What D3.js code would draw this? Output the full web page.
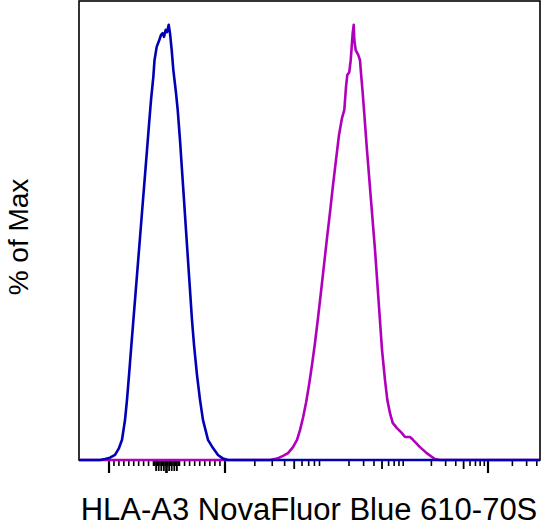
<!DOCTYPE html>
<html><head><meta charset="utf-8">
<script src="https://cdn.jsdelivr.net/npm/d3@7"></script>
<style>html,body{margin:0;padding:0;background:#fff;}svg{display:block;font-family:"Liberation Sans",Arial,sans-serif;}</style>
</head><body>
<svg id="c" width="547" height="527"></svg>
<script>
// Histogram data: x in display units (0-1000 across the axis), y in % of Max
const blueX = [0,45.6,56.4,67.2,78.1,86.8,93.3,99.8,104.1,108.5,112.8,117.1,121.5,125.8,130.2,134.5,138.8,143.2,147.5,151.8,156.2,161.2,163.8,168.5,174.2,177.9,181.6,184.4,188.1,190.9,194.6,197.4,201.1,204.6,210.4,214.1,219.1,223.4,227.8,232.1,236.4,240.8,245.1,249.5,256.0,262.5,269.0,279.8,290.7,301.5,312.4,323.2,1000];
const blueY = [0,0,0.2,0.5,1.1,2.6,4.4,8.7,13.1,18.5,24.0,29.4,34.9,40.3,45.8,51.2,56.6,62.1,67.5,73.0,78.4,83.4,87.1,90.0,91.5,92.6,93.0,92.2,93.7,93.2,94.8,93.0,89.3,85.0,80.0,76.3,69.7,63.2,56.6,50.1,43.6,37.0,30.5,25.1,18.5,13.1,8.7,4.4,2.6,1.1,0.3,0,0];
const magX = [0,414.3,429.5,442.5,453.4,464.2,472.9,479.4,485.9,492.4,498.9,505.4,511.9,518.4,524.9,531.5,538.0,544.5,551.0,557.5,564.0,570.5,575.5,579.2,582.0,586.3,589.4,591.5,593.7,595.9,597.2,600.2,605.9,609.5,611.7,615.4,618.2,624.7,633.4,642.1,649.7,657.3,663.8,668.8,674.6,680.5,689.2,700.0,707.2,718.0,724.5,739.7,754.2,765.1,772.2,783.1,1000];
const magY = [0,0,0.3,0.9,1.5,2.8,4.4,6.5,9.2,12.4,16.3,20.7,25.5,30.9,36.6,42.5,48.4,54.0,59.9,65.4,70.8,74.5,76.3,81.3,83.9,84.5,87.1,90.0,93.0,94.8,91.5,89.3,88.2,87.1,84.3,80.0,76.3,67.5,56.6,45.8,34.9,24.0,17.4,13.1,10.2,8.1,7.0,5.9,5.0,5.0,4.4,2.8,1.5,0.7,0.2,0,0];

const xTitle = "HLA-A3 NovaFluor Blue 610-70S";
const yTitle = "% of Max";
// Biexponential axis calibration (value -> display units)
const linDomain = [-1000, -100, 100, 1000];
const linUnits = [65.1, 161.6, 218.0, 316.7];
const decadeExp = [3, 4, 5, 6];
const decadeUnits = [316.7, 531.5, 711.5, 887.2];
const majorValues = [-1000, 0, 1e3, 1e4, 1e5, 1e6];

const blueColor = "#0000b4", magColor = "#b000bc";

const svg = d3.select("#c");
const m = {left: 79, right: 540, top: 1, bottom: 460};
const x = d3.scaleLinear().domain([0, 1000]).range([m.left, m.right]);
const y = d3.scaleLinear().domain([0, 100]).range([m.bottom, m.top]);

const linScale = d3.scaleLinear().domain(linDomain).range(linUnits);
const logScale = d3.scaleLinear().domain(decadeExp).range(decadeUnits);
const biex = v => v <= 1000 ? linScale(v) : logScale(Math.log10(v));

// build tick list
const ticks = [];
for (let v = -1000; v <= 1000; v += 100) ticks.push(v);
for (let v = -90; v <= 90; v += 10) ticks.push(v);
for (let e = 3; e <= 6; e++) for (let k = 2; k <= 9; k++) ticks.push(k * Math.pow(10, e));
ticks.push(1e6);
const tickInfo = ticks.map(v => {
  let len = 6, w = 1.6;
  if (majorValues.includes(v)) { len = 13; w = 2.2; }
  else if (Math.abs(v) <= 90 && v % 20 === 0) { len = 11; w = 1.8; }
  else if (v > 1000 && Math.abs(v / Math.pow(10, Math.floor(Math.log10(v))) - 5) < 1e-9) { len = 9; w = 1.8; }
  return {v, u: biex(v), len, w};
}).filter(d => d.u >= 0 && d.u <= 1000);

svg.append("g").selectAll("line").data(tickInfo).join("line")
  .attr("x1", d => x(d.u)).attr("x2", d => x(d.u))
  .attr("y1", m.bottom).attr("y2", d => m.bottom + d.len)
  .attr("stroke", "#000").attr("stroke-width", d => d.w);

// frame
svg.append("rect").attr("x", m.left).attr("y", m.top)
  .attr("width", m.right - m.left).attr("height", m.bottom - m.top)
  .attr("fill", "none").attr("stroke", "#000").attr("stroke-width", 1.6);

const line = d3.line().x(d => x(d[0])).y(d => y(d[1]));
svg.append("path").datum(d3.zip(magX, magY)).attr("d", line)
  .attr("fill", "none").attr("stroke", magColor).attr("stroke-width", 2.6).attr("stroke-linejoin", "round");
svg.append("path").datum(d3.zip(blueX, blueY)).attr("d", line)
  .attr("fill", "none").attr("stroke", blueColor).attr("stroke-width", 2.6).attr("stroke-linejoin", "round");

svg.append("text").attr("x", 309).attr("y", 520)
  .attr("text-anchor", "middle").attr("font-size", 31).attr("fill", "#000").text(xTitle);
svg.append("text").attr("transform", `translate(28,237) rotate(-90)`)
  .attr("text-anchor", "middle").attr("font-size", 28).attr("fill", "#000").text(yTitle);
</script>
</body></html>
